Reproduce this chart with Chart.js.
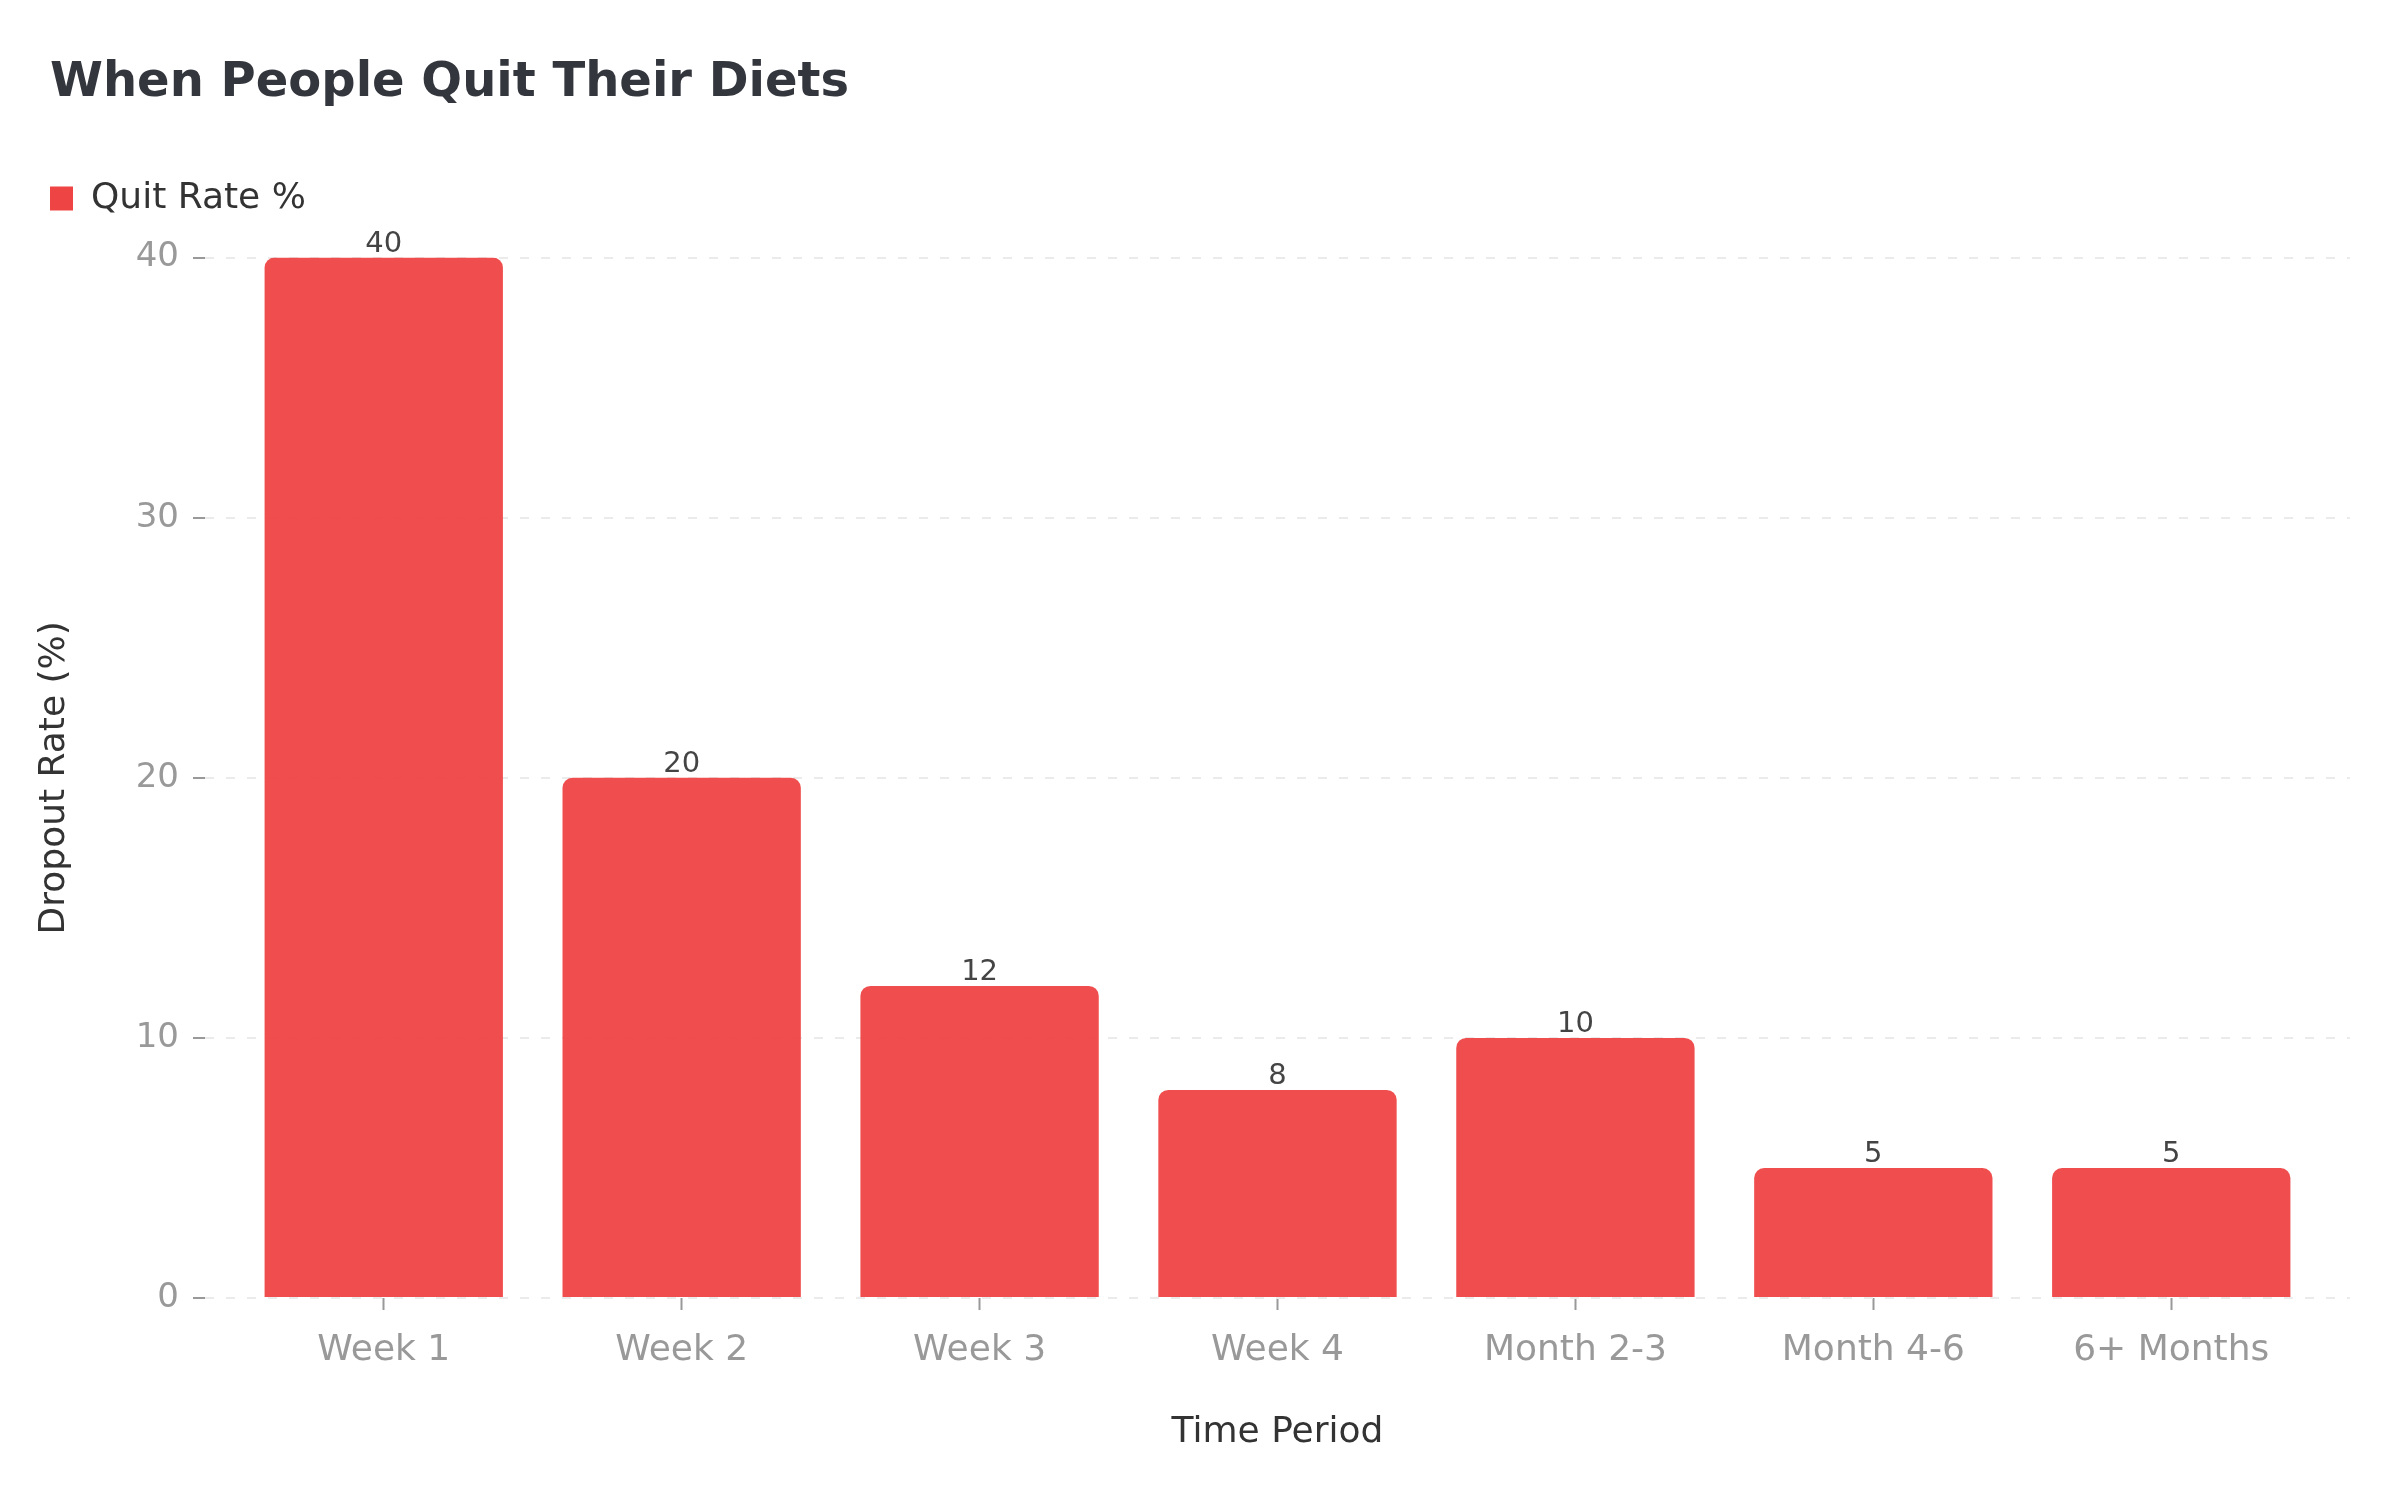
<!DOCTYPE html>
<html>
<head>
<meta charset="utf-8">
<title>When People Quit Their Diets</title>
<script src="https://cdn.jsdelivr.net/npm/chart.js@4.4.1/dist/chart.umd.min.js"></script>
<style>
  html, body { margin: 0; padding: 0; background: #ffffff; }
  #wrap { width: 2400px; height: 1500px; }
</style>
</head>
<body>
<div id="wrap"><canvas id="myChart" width="2400" height="1500"></canvas></div>
<script>
// chart data
const periods = ["Week 1", "Week 2", "Week 3", "Week 4", "Month 2-3", "Month 4-6", "6+ Months"];
const quitRates = [40, 20, 12, 8, 10, 5, 5];
const yTicks = [0, 10, 20, 30, 40];

const FONT = "'DejaVu Sans', 'Liberation Sans', sans-serif";

// value labels above each bar
const barLabels = {
  id: "barLabels",
  afterDatasetsDraw(chart) {
    const ctx = chart.ctx;
    const meta = chart.getDatasetMeta(0);
    ctx.save();
    ctx.font = "29px " + FONT;
    ctx.fillStyle = "#444444";
    ctx.textAlign = "center";
    ctx.textBaseline = "alphabetic";
    meta.data.forEach((bar, i) => {
      ctx.fillText(String(quitRates[i]), bar.x, bar.y - 6);
    });
    ctx.restore();
  }
};

// extra space under the legend
const legendSpace = {
  id: "legendSpace",
  beforeInit(chart) {
    const fit = chart.legend.fit;
    chart.legend.fit = function () {
      fit.call(this);
      this.height += 31;
    };
  }
};

const ctx = document.getElementById("myChart").getContext("2d");
new Chart(ctx, {
  type: "bar",
  data: {
    datasets: [
      {
        label: "Quit Rate %",
        data: quitRates.map((v, i) => ({ x: i, y: v })),
        backgroundColor: "rgba(239, 68, 68, 0.95)",
        borderWidth: 0,
        borderRadius: 10,
        borderSkipped: "start",
        barPercentage: 0.8,
        categoryPercentage: 1.0
      }
    ]
  },
  options: {
    responsive: false,
    devicePixelRatio: 1,
    animation: false,
    layout: { padding: { left: 50, right: 50, top: 0, bottom: 0 } },
    plugins: {
      title: {
        display: true,
        text: "When People Quit Their Diets",
        align: "start",
        color: "#33363d",
        font: { family: FONT, size: 48, weight: "bold" },
        padding: { top: 55, bottom: 68 }
      },
      legend: {
        display: true,
        position: "top",
        align: "start",
        labels: {
          color: "#333333",
          font: { family: FONT, size: 36 },
          boxWidth: 23,
          boxHeight: 24,
          padding: 0,
          generateLabels(chart) {
            const items = Chart.defaults.plugins.legend.labels.generateLabels(chart);
            items.forEach((it) => {
              it.fillStyle = "#ef4444";
              it.strokeStyle = "#ef4444";
              it.lineWidth = 0;
            });
            return items;
          }
        }
      },
      tooltip: { enabled: false }
    },
    scales: {
      x: {
        type: "linear",
        min: -0.6,
        max: 6.6,
        offset: false,
        afterBuildTicks(scale) {
          scale.ticks = periods.map((p, i) => ({ value: i }));
        },
        afterFit(scale) {
          scale.height = 202;
        },
        ticks: {
          color: "#999999",
          font: { family: FONT, size: 36 },
          padding: 19,
          maxRotation: 0,
          autoSkip: false,
          callback: (v) => periods[v]
        },
        grid: {
          offset: false,
          drawOnChartArea: false,
          drawTicks: true,
          tickLength: 12,
          tickColor: "#999999",
          tickWidth: 2
        },
        border: { display: false },
        title: {
          display: true,
          text: "Time Period",
          color: "#333333",
          font: { family: FONT, size: 36 },
          padding: { top: 0, bottom: 46 }
        }
      },
      y: {
        min: 0,
        max: 40,
        afterBuildTicks(scale) {
          scale.ticks = yTicks.map((v) => ({ value: v }));
        },
        afterFit(scale) {
          scale.width = 155;
        },
        ticks: {
          color: "#999999",
          font: { family: FONT, size: 34 },
          padding: 14
        },
        grid: {
          color: "#ebebeb",
          lineWidth: 2,
          drawTicks: true,
          tickLength: 12,
          tickColor: "#999999",
          tickWidth: 2
        },
        border: { display: false, dash: [9, 12] },
        title: {
          display: true,
          text: "Dropout Rate (%)",
          color: "#333333",
          font: { family: FONT, size: 36 },
          padding: { top: -17, bottom: 0 }
        }
      }
    }
  },
  plugins: [barLabels, legendSpace]
});
</script>
</body>
</html>
